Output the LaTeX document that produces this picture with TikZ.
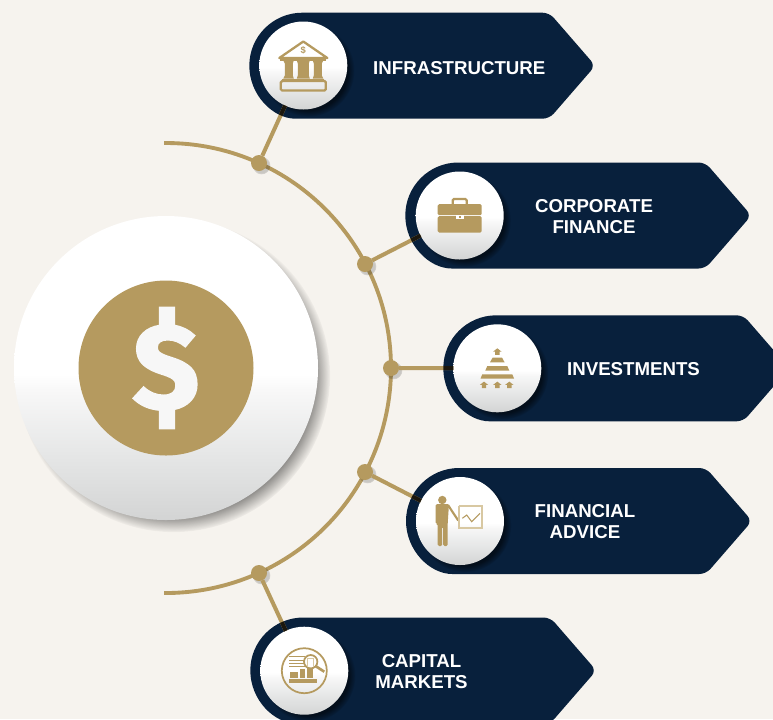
\documentclass[tikz,border=0pt]{standalone}
\usepackage{fontspec}
\setmainfont{Liberation Sans}
\newfontfamily\dollarfont[BoldFeatures={FakeBold=2}]{Fira Sans}
\usetikzlibrary{shadows,fadings}
\definecolor{bgcream}{HTML}{F6F3EE}
\definecolor{goldtone}{HTML}{B59A5F}
\definecolor{goldpale}{HTML}{D8C8A2}
\definecolor{navytone}{HTML}{08203C}
\definecolor{discgray}{HTML}{D3D4D4}
\definecolor{discmid}{HTML}{E6E7E7}
\definecolor{disclight}{HTML}{F7F7F7}
\pgfdeclareverticalshading{discshade}{100bp}{color(0bp)=(discgray); color(25bp)=(discgray); color(36bp)=(discmid); color(46bp)=(disclight); color(49bp)=(white); color(100bp)=(white)}
% #1 left end of the tag, #2 its middle height
\newcommand{\tagpath}[2]{(#1+53,#2-53) {[rounded corners=5pt] -- (#1+300,#2-53) -- (#1+346,#2) -- (#1+300,#2+53) -- (#1+53,#2+53)} arc (90:270:53) -- cycle}
\tikzset{
  ringline/.style={draw=goldtone,line width=2.9pt},
  spoke/.style={draw=goldtone,line width=3pt},
  spokedark/.style={draw=black!85!goldtone,line width=3pt},
  dotnode/.style={circle,fill=goldtone,minimum size=12pt,inner sep=0pt,outer sep=0pt,
    circular drop shadow={shadow xshift=1.5pt,shadow yshift=-1.5pt,fill=black,opacity=.18,shadow scale=1.15}},
  discnode/.style={circle,shading=discshade,minimum size=66pt,inner sep=0pt,outer sep=0pt,
    circular drop shadow={shadow xshift=3.5pt,shadow yshift=-3.5pt,fill=black,opacity=.55,shadow scale=1.05}},
  hubnode/.style={circle,shading=discshade,minimum size=228pt,inner sep=0pt,outer sep=0pt,
    circular drop shadow={shadow xshift=5.5pt,shadow yshift=-5.5pt,fill=black,opacity=.6,shadow scale=1.03}},
  tagtext/.style={text=white,font=\fontsize{14}{15.75}\selectfont\bfseries,align=center},
  iconfill/.style={fill=goldtone},
  iconline/.style={draw=goldtone,line width=1.7pt},
}
\begin{document}
\begin{tikzpicture}[x=0.75pt,y=0.75pt,yscale=-1,xscale=1]
\fill[bgcream] (0,0) rectangle (773,719);
\useasboundingbox (0,0) rectangle (773,719);

%Centre disc
\node[hubnode] (hub) at (166,368) {};
\node[circle,fill=goldtone,minimum size=131.25pt,inner sep=0pt] (hubcoin) at (166,368) {};
\node[text=disclight,inner sep=0pt,font=\dollarfont\bfseries\fontsize{91}{91}\selectfont] (hubsign) at (166,368) {\$};

%Ring
\draw[ringline] (hub.center) ++(-90.5:225) arc (-90.5:90.5:225);

%Tags
\fill[navytone] \tagpath{249.3}{65.7};
\fill[navytone] \tagpath{405.3}{215.5};
\fill[navytone] \tagpath{443.3}{368.3};
\fill[navytone] \tagpath{406}{521};
\fill[navytone] \tagpath{250.3}{670.5};

%Discs of the tags
\node[discnode] (infra) at (303.3,65.5) {};
\node[discnode] (corp) at (459.7,215.5) {};
\node[discnode] (invest) at (497.3,368.3) {};
\node[discnode] (advice) at (460,521) {};
\node[discnode] (markets) at (304.3,670.7) {};

%Dots on the ring
\node[dotnode] (dotinfra) at (259,163) {};
\node[dotnode] (dotcorp) at (365,264) {};
\node[dotnode] (dotinvest) at (391,368) {};
\node[dotnode] (dotadvice) at (365,472) {};
\node[dotnode] (dotmarkets) at (259,573) {};

%Straight Lines
\draw[spoke] (dotinfra) -- (infra);
\draw[spoke] (dotcorp) -- (corp);
\draw[spoke] (dotinvest) -- (invest);
\draw[spoke] (dotadvice) -- (advice);
\draw[spoke] (dotmarkets) -- (markets);
%Straight Lines, the part that lies on a tag
\begin{scope}
\clip \tagpath{249.3}{65.7};
\draw[spokedark] (dotinfra) -- (infra);
\end{scope}
\begin{scope}
\clip \tagpath{405.3}{215.5};
\draw[spokedark] (dotcorp) -- (corp);
\end{scope}
\begin{scope}
\clip \tagpath{443.3}{368.3};
\draw[spokedark] (dotinvest) -- (invest);
\end{scope}
\begin{scope}
\clip \tagpath{406}{521};
\draw[spokedark] (dotadvice) -- (advice);
\end{scope}
\begin{scope}
\clip \tagpath{250.3}{670.5};
\draw[spokedark] (dotmarkets) -- (markets);
\end{scope}

%Icon: bank
\begin{scope}[shift={(303.3,65.5)}]
\draw[iconline,line join=round] (0,-24) -- (-24,-7.5) -- (24,-7.5) -- cycle;
\fill[iconfill] (-23,-7.5) rectangle (23,-4.5);
\fill[iconfill] (-20,-5) -- (-9.5,-5) -- (-10.5,-2) -- (-10.5,10) -- (-9.5,13) -- (-20,13) -- (-18.5,10) -- (-18.5,-2) -- cycle;
\fill[iconfill] (-6.5,-5) -- (6.5,-5) -- (5.5,-2) -- (5.5,10) -- (6.5,13) -- (-6.5,13) -- (-5.5,10) -- (-5.5,-2) -- cycle;
\fill[iconfill] (9.5,-5) -- (20,-5) -- (18.5,-2) -- (18.5,10) -- (20,13) -- (9.5,13) -- (10.5,10) -- (10.5,-2) -- cycle;
\fill[iconfill] (-21,13) rectangle (21,15);
\draw[iconline,rounded corners=1pt] (-22.5,15.5) rectangle (22.5,25);
\node[text=goldtone,inner sep=0pt,font=\fontsize{7}{7}\selectfont\bfseries] (banksign) at (0,-15) {\$};
\end{scope}

%Icon: briefcase
\begin{scope}[shift={(459.7,215.5)}]
\draw[iconline,rounded corners=1pt] (-7,-10) -- (-7,-16.5) -- (7,-16.5) -- (7,-10);
\fill[iconfill,rounded corners=1pt] (-22,-11.3) rectangle (22,-0.3);
\fill[iconfill,rounded corners=1pt] (-22,0.7) rectangle (22,17);
\fill[white] (-4,-0.8) rectangle (4,3.5);
\fill[iconfill] (-1,0) rectangle (1,2.7);
\end{scope}

%Icon: pyramid
\begin{scope}[shift={(497.3,368.3)}]
\foreach \px/\py in {0/-20,-13.3/13.3,0/13.3,12/13.3}
  \fill[iconfill] (\px,\py) -- (\px+4.2,\py+3.3) -- (\px+2.2,\py+3.3) -- (\px+2.2,\py+6.5) -- (\px-2.2,\py+6.5) -- (\px-2.2,\py+3.3) -- (\px-4.2,\py+3.3) -- cycle;
\fill[iconfill] (-4.7,-10.7) -- (4.7,-10.7) -- (7.3,-6) -- (-7.3,-6) -- cycle;
\fill[iconfill] (-10,-2.3) -- (10,-2.3) -- (12,2.3) -- (-12,2.3) -- cycle;
\fill[iconfill] (-15,6) -- (15,6) -- (16.8,10.3) -- (-16.8,10.3) -- cycle;
\end{scope}

%Icon: presenter
\begin{scope}[shift={(460,521)}]
\fill[iconfill] (-17.7,-21) circle (4.2);
\fill[iconfill,rounded corners=1pt] (-24.3,-17) -- (-11,-17) -- (-12.3,2) -- (-12.3,25) -- (-16.8,25) -- (-16.8,5.7) -- (-17.8,5.7) -- (-17.8,25) -- (-22.3,25) -- (-22.3,3) -- (-24.3,3) -- cycle;
\draw[goldtone,line width=1.6pt] (-12,-16) -- (-1.8,-0.5);
\draw[goldpale,line width=1.4pt] (-0.7,-14.5) rectangle (22.3,7.3);
\draw[goldpale,line width=1.8pt] (-1.2,-15) -- (22.8,-15);
\draw[goldtone,line width=.8pt] (2.3,-2.7) -- (6.7,-6) -- (11.7,.7) -- (20,-7.7);
\end{scope}

%Icon: markets
\begin{scope}[shift={(304.3,670.7)}]
\draw[goldtone,line width=1.3pt] (0,0) circle (22.5);
\foreach \py in {-14,-10.7,-7.3,-4}
  \draw[goldtone,line width=.5pt] (-15,\py) -- (1,\py);
\fill[iconfill] (-14.3,1) rectangle (-6,7.7);
\fill[iconfill] (-4.3,-2) rectangle (0.7,7.7);
\fill[iconfill] (2.4,-3) rectangle (9,7.7);
\fill[iconfill] (-15.5,8.6) rectangle (13,12);
\draw[goldtone,line width=1.3pt,fill=white] (6.4,-9) circle (6.7);
\draw[goldpale,line width=.8pt] (3.6,-4) -- (3.6,-12) -- (9.2,-12) -- (9.2,-4);
\draw[goldtone,line width=2pt] (11.5,-4.5) -- (20,1);
\end{scope}

% Text Node
\node[tagtext] (infratext) at (459.3,67.8) {INFRASTRUCTURE};
% Text Node
\node[tagtext] (corptext) at (594,216.3) {CORPORATE\\FINANCE};
% Text Node
\node[tagtext] (investtext) at (633.5,369.3) {INVESTMENTS};
% Text Node
\node[tagtext] (advicetext) at (585,521.8) {FINANCIAL\\ADVICE};
% Text Node
\node[tagtext] (marketstext) at (421.5,671.3) {CAPITAL\\MARKETS};
\end{tikzpicture}
\end{document}
